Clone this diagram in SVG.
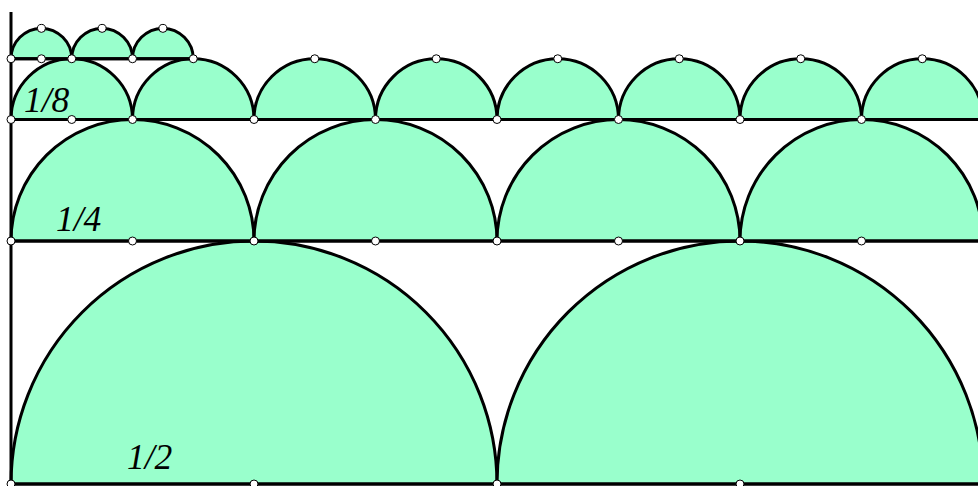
<svg xmlns="http://www.w3.org/2000/svg" width="978" height="486" viewBox="0 0 978 486">
<style>
.s{fill:#99ffcc;stroke:#000;stroke-width:3;stroke-linejoin:round}
.l{stroke:#000;stroke-width:3;fill:none}
.d{fill:#fff;stroke:#000;stroke-width:1}
.t{font-family:"Liberation Serif",serif;font-style:italic;font-size:35.5px;fill:#000}
</style>
<rect width="978" height="486" fill="#fff"/>
<g id="row-half">
<path class="s" d="M11,484 A243,243 0 0 1 497,484 Z"/>
<path class="s" d="M497,484 A243,243 0 0 1 983,484 Z"/>
</g>
<g id="row-quarter">
<path class="s" d="M11,241 A121.5,121.5 0 0 1 254,241 Z"/>
<path class="s" d="M254,241 A121.5,121.5 0 0 1 497,241 Z"/>
<path class="s" d="M497,241 A121.5,121.5 0 0 1 740,241 Z"/>
<path class="s" d="M740,241 A121.5,121.5 0 0 1 983,241 Z"/>
</g>
<g id="row-eighth">
<path class="s" d="M11,119.5 A60.75,60.75 0 0 1 132.5,119.5 Z"/>
<path class="s" d="M132.5,119.5 A60.75,60.75 0 0 1 254,119.5 Z"/>
<path class="s" d="M254,119.5 A60.75,60.75 0 0 1 375.5,119.5 Z"/>
<path class="s" d="M375.5,119.5 A60.75,60.75 0 0 1 497,119.5 Z"/>
<path class="s" d="M497,119.5 A60.75,60.75 0 0 1 618.5,119.5 Z"/>
<path class="s" d="M618.5,119.5 A60.75,60.75 0 0 1 740,119.5 Z"/>
<path class="s" d="M740,119.5 A60.75,60.75 0 0 1 861.5,119.5 Z"/>
<path class="s" d="M861.5,119.5 A60.75,60.75 0 0 1 983,119.5 Z"/>
</g>
<g id="row-sixteenth">
<path class="s" d="M11,58.75 A30.375,30.375 0 0 1 71.75,58.75 Z"/>
<path class="s" d="M71.75,58.75 A30.375,30.375 0 0 1 132.5,58.75 Z"/>
<path class="s" d="M132.5,58.75 A30.375,30.375 0 0 1 193.25,58.75 Z"/>
</g>
<g id="lines">
<line class="l" x1="11" y1="12" x2="11" y2="486"/>
<line class="l" x1="11" y1="484" x2="978" y2="484"/>
<line class="l" x1="11" y1="241" x2="978" y2="241"/>
<line class="l" x1="11" y1="119.5" x2="978" y2="119.5"/>
<line class="l" x1="11" y1="58.75" x2="193.25" y2="58.75"/>
</g>
<g id="labels">
<text class="t" x="24" y="112">1/8</text>
<text class="t" x="56" y="231">1/4</text>
<text class="t" x="127" y="469">1/2</text>
</g>
<g id="points">
<circle class="d" cx="41.4" cy="28.4" r="4"/>
<circle class="d" cx="102.1" cy="28.4" r="4"/>
<circle class="d" cx="162.9" cy="28.4" r="4"/>
<circle class="d" cx="11" cy="58.75" r="4"/>
<circle class="d" cx="41.4" cy="58.75" r="4"/>
<circle class="d" cx="71.75" cy="58.75" r="4"/>
<circle class="d" cx="132.5" cy="58.75" r="4"/>
<circle class="d" cx="193.25" cy="58.75" r="4"/>
<circle class="d" cx="314.75" cy="58.75" r="4"/>
<circle class="d" cx="436.25" cy="58.75" r="4"/>
<circle class="d" cx="557.75" cy="58.75" r="4"/>
<circle class="d" cx="679.25" cy="58.75" r="4"/>
<circle class="d" cx="800.75" cy="58.75" r="4"/>
<circle class="d" cx="922.25" cy="58.75" r="4"/>
<circle class="d" cx="11" cy="119.5" r="4"/>
<circle class="d" cx="71.75" cy="119.5" r="4"/>
<circle class="d" cx="132.5" cy="119.5" r="4"/>
<circle class="d" cx="254" cy="119.5" r="4"/>
<circle class="d" cx="375.5" cy="119.5" r="4"/>
<circle class="d" cx="497" cy="119.5" r="4"/>
<circle class="d" cx="618.5" cy="119.5" r="4"/>
<circle class="d" cx="740" cy="119.5" r="4"/>
<circle class="d" cx="861.5" cy="119.5" r="4"/>
<circle class="d" cx="11" cy="241" r="4"/>
<circle class="d" cx="132.5" cy="241" r="4"/>
<circle class="d" cx="254" cy="241" r="4"/>
<circle class="d" cx="375.5" cy="241" r="4"/>
<circle class="d" cx="497" cy="241" r="4"/>
<circle class="d" cx="618.5" cy="241" r="4"/>
<circle class="d" cx="740" cy="241" r="4"/>
<circle class="d" cx="861.5" cy="241" r="4"/>
<circle class="d" cx="11" cy="484" r="4"/>
<circle class="d" cx="254" cy="484" r="4"/>
<circle class="d" cx="497" cy="484" r="4"/>
<circle class="d" cx="740" cy="484" r="4"/>
</g>
</svg>
